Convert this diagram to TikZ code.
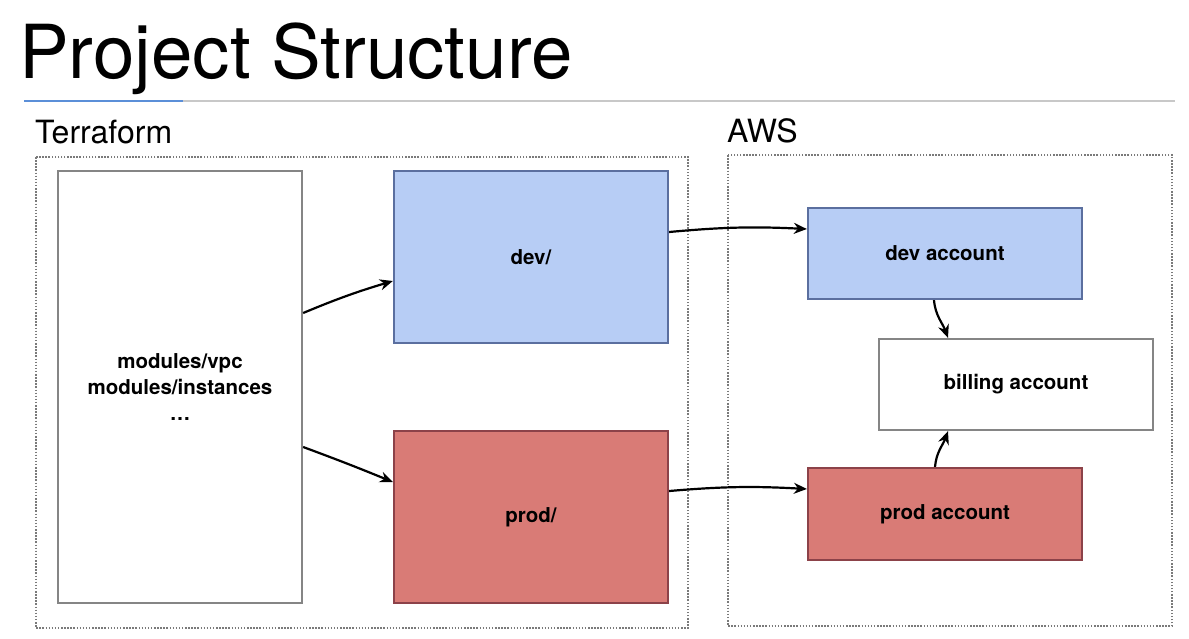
\documentclass[tikz,border=0pt]{standalone}
\usepackage{fontspec}
\setmainfont{TeX Gyre Heros}
\usetikzlibrary{arrows.meta,calc}
\definecolor{bluefill}{HTML}{B7CDF5}
\definecolor{blueline}{HTML}{5B6F9F}
\definecolor{redfill}{HTML}{D97B76}
\definecolor{redline}{HTML}{8C4249}
\definecolor{boxgray}{HTML}{858585}
\definecolor{dotgray}{HTML}{7A7A7A}
\definecolor{rulegray}{HTML}{C8C8C8}
\definecolor{ruleblue}{HTML}{5B8FD8}
\tikzset{
  x=1pt, y=-1pt,
  box/.style={draw, line width=2.3pt, inner sep=0pt, align=center,
    font=\fontsize{20.5}{26}\selectfont\bfseries},
  bluebox/.style={box, fill=bluefill, draw=blueline},
  redbox/.style={box, fill=redfill, draw=redline},
  whitebox/.style={box, fill=white, draw=boxgray},
  group/.style={draw=dotgray, line width=1.8pt, dash pattern=on 1.5pt off 1.6pt},
  conn/.style={line width=2.2pt, -{Stealth[length=13pt,width=11pt]}},
  heading/.style={inner sep=0pt, anchor=base west}
}
\begin{document}
\begin{tikzpicture}
\useasboundingbox (0,0) rectangle (1189,638);
\fill[white] (0,0) rectangle (1189,638);
% title
\node[heading, font=\fontsize{74.5}{80}\selectfont] (title) at (19,78) {Project Structure};
\draw[rulegray, line width=1.2pt] (24,101) -- (1175,101);
\draw[ruleblue, line width=1.4pt] (24,101) -- (183,101);
% section labels
\node[heading, font=\fontsize{32}{36}\selectfont] (tflabel) at (35,143) {Terraform};
\node[heading, font=\fontsize{32}{36}\selectfont] (awslabel) at (727,142) {AWS};
% groups
\draw[group] (36,157) rectangle (688,628);
\draw[group] (728,155) rectangle (1172,626);
% boxes
\node[whitebox, minimum width=244pt, minimum height=432pt] (mod) at (180,387)
  {modules/vpc\\modules/instances\\\dots};
\node[bluebox, minimum width=274pt, minimum height=172pt] (dev) at (531,257) {dev/};
\node[redbox, minimum width=274pt, minimum height=172pt] (prod) at (531,517) {prod/};
\node[bluebox, minimum width=274pt, minimum height=91pt] (devacct) at (945,253.5) {dev account};
\node[whitebox, minimum width=274pt, minimum height=91pt] (bill) at (1016,384.5) {billing account};
\node[redbox, minimum width=274pt, minimum height=92pt] (prodacct) at (945,514) {prod account};
% connectors
\draw[conn] ([yshift=74pt]mod.east) to[bend left=3] ([yshift=-24pt]dev.west);
\draw[conn] ([yshift=-60pt]mod.east) to[bend left=1] ([yshift=35pt]prod.west);
\draw[conn] ([yshift=25pt]dev.east) to[bend left=4] ([yshift=24.5pt]devacct.west);
\draw[conn] ([yshift=26pt]prod.east) to[bend left=4] ([yshift=25pt]prodacct.west);
\draw[conn] ([xshift=-11pt]devacct.south) to[out=-85, in=110] ([xshift=-68pt]bill.north);
\draw[conn] ([xshift=-10pt]prodacct.north) to[out=85, in=-110] ([xshift=-68pt]bill.south);
\end{tikzpicture}
\end{document}
